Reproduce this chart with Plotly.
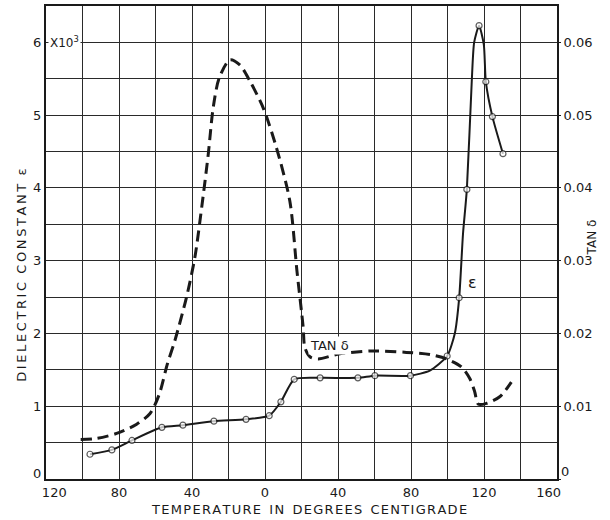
import plotly.graph_objects as go

# Dielectric constant (x10^3) vs temperature
eps_T = [-95.9, -83.9, -72.9, -56.5, -45.0, -28.0, -10.4, 2.3, 8.7, 16.0, 30.2, 50.9, 60.2, 79.7,
         90.3, 99.8, 104.0, 106.4, 108.5, 110.6, 113.3, 114.6, 117.3, 119.9, 121.0, 124.6, 130.4]
eps_V = [0.34, 0.40, 0.53, 0.71, 0.74, 0.795, 0.82, 0.87, 1.06, 1.37, 1.39, 1.39, 1.42, 1.42,
         1.49, 1.69, 2.00, 2.49, 3.37, 3.98, 5.47, 6.00, 6.23, 5.97, 5.46, 4.98, 4.47]
eps_measured = [1, 1, 1, 1, 1, 1, 1, 1, 1, 1, 1, 1, 1, 1,
                0, 1, 0, 1, 0, 1, 0, 0, 1, 0, 1, 1, 1]

# Loss tangent vs temperature
tan_T = [-101.0, -92.2, -81.3, -70.3, -63.0, -58.0, -53.5, -49.4, -43.0, -38.4, -34.7, -31.1,
         -28.4, -25.1, -19.2, -13.8, -8.3, -1.0, 6.3, 13.6, 17.5, 20.9, 21.8, 24.6, 29.1, 41.0,
         59.2, 77.5, 90.3, 99.4, 107.6, 112.2, 114.9, 116.8, 121.4, 128.6, 135.0]
tan_V = [0.00544, 0.00558, 0.00626, 0.00753, 0.0090, 0.0116, 0.0158, 0.0190, 0.0250, 0.0305,
         0.0373, 0.0446, 0.0510, 0.0551, 0.0576, 0.0569, 0.0547, 0.0510, 0.0455, 0.0382, 0.0286,
         0.0209, 0.0181, 0.0168, 0.0165, 0.0172, 0.0176, 0.0174, 0.0171, 0.0165, 0.0154, 0.0138,
         0.0120, 0.0103, 0.0104, 0.0113, 0.0133]

NB = "\u00a0"
x_tickvals = list(range(-120, 161, 20))
x_ticktext = [NB * 4 + "120", "", "80", "", "40", "", "0", "", "40", "", "80", "", "120", "",
              "160" + NB * 4]
y_tickvals = [i * 0.5 for i in range(14)]
y_ticktext = ["", "", "1", "", "2", "", "3", "", "4", "", "5", "", "6", ""]
y2_tickvals = [0, 0.01, 0.02, 0.03, 0.04, 0.05, 0.06]
y2_ticktext = ["", "0.01", "0.02", "0.03", "0.04", "0.05", "0.06"]

FONT = "DejaVu Sans"
INK = "#1a1a1a"
GRID = "#2a2a2a"


def spaced(s, sep):
    return "  ".join(sep.join(w) for w in s.split(" "))


fig = go.Figure()
fig.add_trace(go.Scatter(
    x=tan_T, y=tan_V, yaxis="y2", mode="lines",
    line=dict(color=INK, width=3, dash="11px,6px", shape="spline", smoothing=0.8),
    showlegend=False, hoverinfo="skip"))
fig.add_trace(go.Scatter(
    x=eps_T, y=eps_V, mode="lines+markers",
    line=dict(color=INK, width=2, shape="spline", smoothing=0.6),
    marker=dict(symbol="circle", size=[6 if m else 0 for m in eps_measured], color="white",
                line=dict(color=INK, width=1.2)),
    showlegend=False, hoverinfo="skip"))

fig.update_layout(
    width=610, height=520,
    margin=dict(l=46, r=53, t=4, b=41),
    paper_bgcolor="white", plot_bgcolor="white",
    font=dict(family=FONT, size=13, color=INK),
    xaxis=dict(range=[-120, 160], tickvals=x_tickvals, ticktext=x_ticktext,
               showgrid=True, gridcolor=GRID, gridwidth=1.2, zeroline=False,
               showline=True, linecolor=INK, linewidth=2, mirror=True,
               ticks="", tickfont=dict(size=13)),
    yaxis=dict(range=[0, 6.5], tickvals=y_tickvals, ticktext=y_ticktext,
               showgrid=True, gridcolor=GRID, gridwidth=1.2, zeroline=False,
               showline=True, linecolor=INK, linewidth=2, mirror=True,
               ticks="", tickfont=dict(size=13)),
    yaxis2=dict(range=[0, 0.065], tickvals=y2_tickvals, ticktext=y2_ticktext,
                overlaying="y", side="right", showgrid=False, zeroline=False,
                showline=False, ticks="outside", ticklen=3, tickcolor=INK,
                tickfont=dict(size=13)),
)

ann = [
    dict(text="0", x=0, y=0, xref="paper", yref="y", xanchor="right", yanchor="middle",
         xshift=-3, yshift=6, showarrow=False, font=dict(size=13)),
    dict(text="0", x=1, y=0, xref="paper", yref="y", xanchor="left", yanchor="middle",
         xshift=2, yshift=8, showarrow=False, font=dict(size=13)),
    dict(text="X10<sup>3</sup>", x=-119, y=6.0, xref="x", yref="y", xanchor="left",
         yanchor="middle", showarrow=False, font=dict(size=12), bgcolor="white"),
    dict(text="TAN δ", x=23.5, y=1.84, xref="x", yref="y", xanchor="left",
         showarrow=False, font=dict(size=13), bgcolor="white"),
    dict(text="ε", x=113.8, y=2.70, xref="x", yref="y", xanchor="center",
         showarrow=False, font=dict(size=16), bgcolor="white"),
    dict(text=spaced("DIELECTRIC CONSTANT", "\u2009") + "  ε", x=0, y=2.80, xref="paper",
         yref="y", xshift=-34, textangle=-90, showarrow=False, font=dict(size=13)),
    dict(text="TAN δ", x=1, y=3.32, xref="paper", yref="y",
         xshift=44, textangle=-90, showarrow=False, font=dict(size=12)),
    dict(text=spaced("TEMPERATURE IN DEGREES CENTIGRADE", "\u200a"), x=24, y=0, xref="x",
         yref="paper", yanchor="middle", yshift=-30, showarrow=False, font=dict(size=13)),
]
fig.update_layout(annotations=ann)

fig.write_html("out.html")
